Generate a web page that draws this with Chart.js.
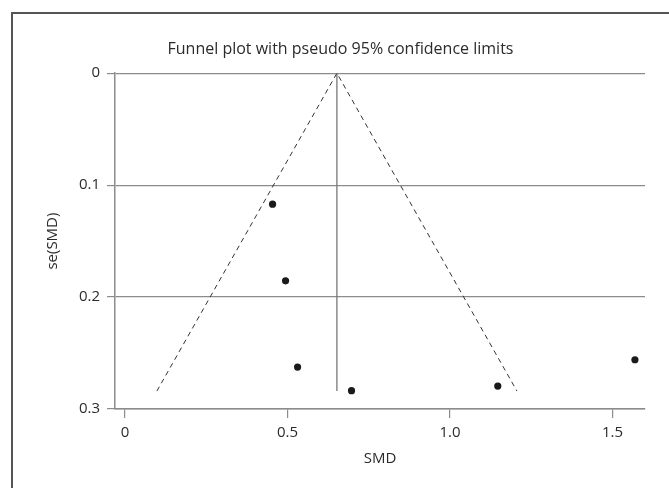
<!DOCTYPE html>
<html lang="en">
<head>
    <meta charset="UTF-8">
    <title>Funnel plot</title>
    <style>
        body {
            margin: 0;
            padding: 0;
            background: #fff;
            overflow: hidden;
        }
        .frame {
            position: absolute;
            left: 11px;
            top: 12px;
            width: 700px;
            height: 520px;
            border: 2px solid #555;
        }
        #funnelChart {
            position: absolute;
            left: 0;
            top: 0;
        }
    </style>
</head>
<body>
    <div class="frame"></div>
    <canvas id="funnelChart" width="669" height="488"></canvas>

    <script src="https://cdn.jsdelivr.net/npm/chart.js"></script>
    <script>
        // study estimates
        const smd = [0.454, 0.494, 0.531, 0.697, 1.147, 1.569];
        const seSmd = [0.117, 0.1855, 0.2625, 0.2836, 0.2795, 0.256];

        // pooled estimate line and pseudo 95% limits
        const pooledX = [0.652, 0.652];
        const pooledY = [0, 0.284];
        const funnelX = [0.098, 0.652, 1.206];
        const funnelY = [0.284, 0, 0.284];

        const xTicks = [0, 0.5, 1.0, 1.5];
        const yTicks = [0, 0.1, 0.2, 0.3];

        const toPoints = (xs, ys) => xs.map((x, i) => ({ x: x, y: ys[i] }));

        const fontFamily = "'Open Sans', 'Noto Sans', sans-serif";
        const textColor = "#2b2b2b";
        const gridColor = "#8c8c8c";

        // nudge the title so it sits where the original one does
        const titleShift = {
            id: "titleShift",
            afterLayout(chart) {
                if (chart.titleBlock) {
                    chart.titleBlock.left += 36;
                }
            }
        };

        new Chart(document.getElementById("funnelChart").getContext("2d"), {
            type: "scatter",
            data: {
                datasets: [{
                    label: "Pseudo 95% limits",
                    data: toPoints(funnelX, funnelY),
                    showLine: true,
                    borderColor: "#333",
                    borderWidth: 1,
                    borderDash: [5, 4],
                    pointRadius: 0,
                    fill: false
                },
                {
                    label: "Pooled",
                    data: toPoints(pooledX, pooledY),
                    showLine: true,
                    borderColor: "#777",
                    borderWidth: 1.3,
                    pointRadius: 0,
                    fill: false
                },
                {
                    label: "Studies",
                    data: toPoints(smd, seSmd),
                    backgroundColor: "#1a1a1a",
                    borderColor: "#1a1a1a",
                    pointRadius: 3.6,
                    pointBorderWidth: 0
                }]
            },
            options: {
                responsive: false,
                animation: false,
                devicePixelRatio: 1,
                layout: {
                    padding: { left: 0, right: 24, top: 0, bottom: 0 }
                },
                plugins: {
                    legend: { display: false },
                    tooltip: { enabled: false },
                    title: {
                        display: true,
                        text: "Funnel plot with pseudo 95% confidence limits",
                        color: textColor,
                        font: { family: fontFamily, size: 16, weight: "normal", lineHeight: 1.2 },
                        padding: { top: 40, bottom: 14 }
                    }
                },
                scales: {
                    x: {
                        type: "linear",
                        min: -0.0308,
                        max: 1.6,
                        afterBuildTicks: (scale) => {
                            scale.ticks = xTicks.map((v) => ({ value: v }));
                        },
                        afterFit: (scale) => {
                            scale.height = 79;
                        },
                        grid: {
                            drawOnChartArea: false,
                            drawTicks: true,
                            tickLength: 9,
                            color: gridColor,
                            lineWidth: 1.2
                        },
                        border: { display: true, color: gridColor, width: 1.5 },
                        ticks: {
                            color: textColor,
                            padding: 6,
                            font: { family: fontFamily, size: 15 },
                            callback: (v) => (v === 0 ? "0" : v.toFixed(1))
                        },
                        title: {
                            display: true,
                            text: "SMD",
                            color: textColor,
                            font: { family: fontFamily, size: 15, lineHeight: 1.2 },
                            padding: { top: 0, bottom: 20 }
                        }
                    },
                    y: {
                        type: "linear",
                        reverse: true,
                        min: 0,
                        max: 0.3,
                        afterBuildTicks: (scale) => {
                            scale.ticks = yTicks.map((v) => ({ value: v }));
                        },
                        afterFit: (scale) => {
                            scale.width = 115;
                        },
                        grid: {
                            drawOnChartArea: true,
                            drawTicks: true,
                            tickLength: 8,
                            color: gridColor,
                            lineWidth: 1.2
                        },
                        border: { display: true, color: gridColor, width: 1.5 },
                        ticks: {
                            color: textColor,
                            padding: 7,
                            font: { family: fontFamily, size: 15 },
                            callback: (v) => (v === 0 ? "0" : v.toFixed(1))
                        },
                        title: {
                            display: true,
                            text: "se(SMD)",
                            color: textColor,
                            font: { family: fontFamily, size: 15, lineHeight: 1.2 },
                            padding: { top: 44, bottom: 0 }
                        }
                    }
                }
            },
            plugins: [titleShift]
        });
    </script>
</body>
</html>
